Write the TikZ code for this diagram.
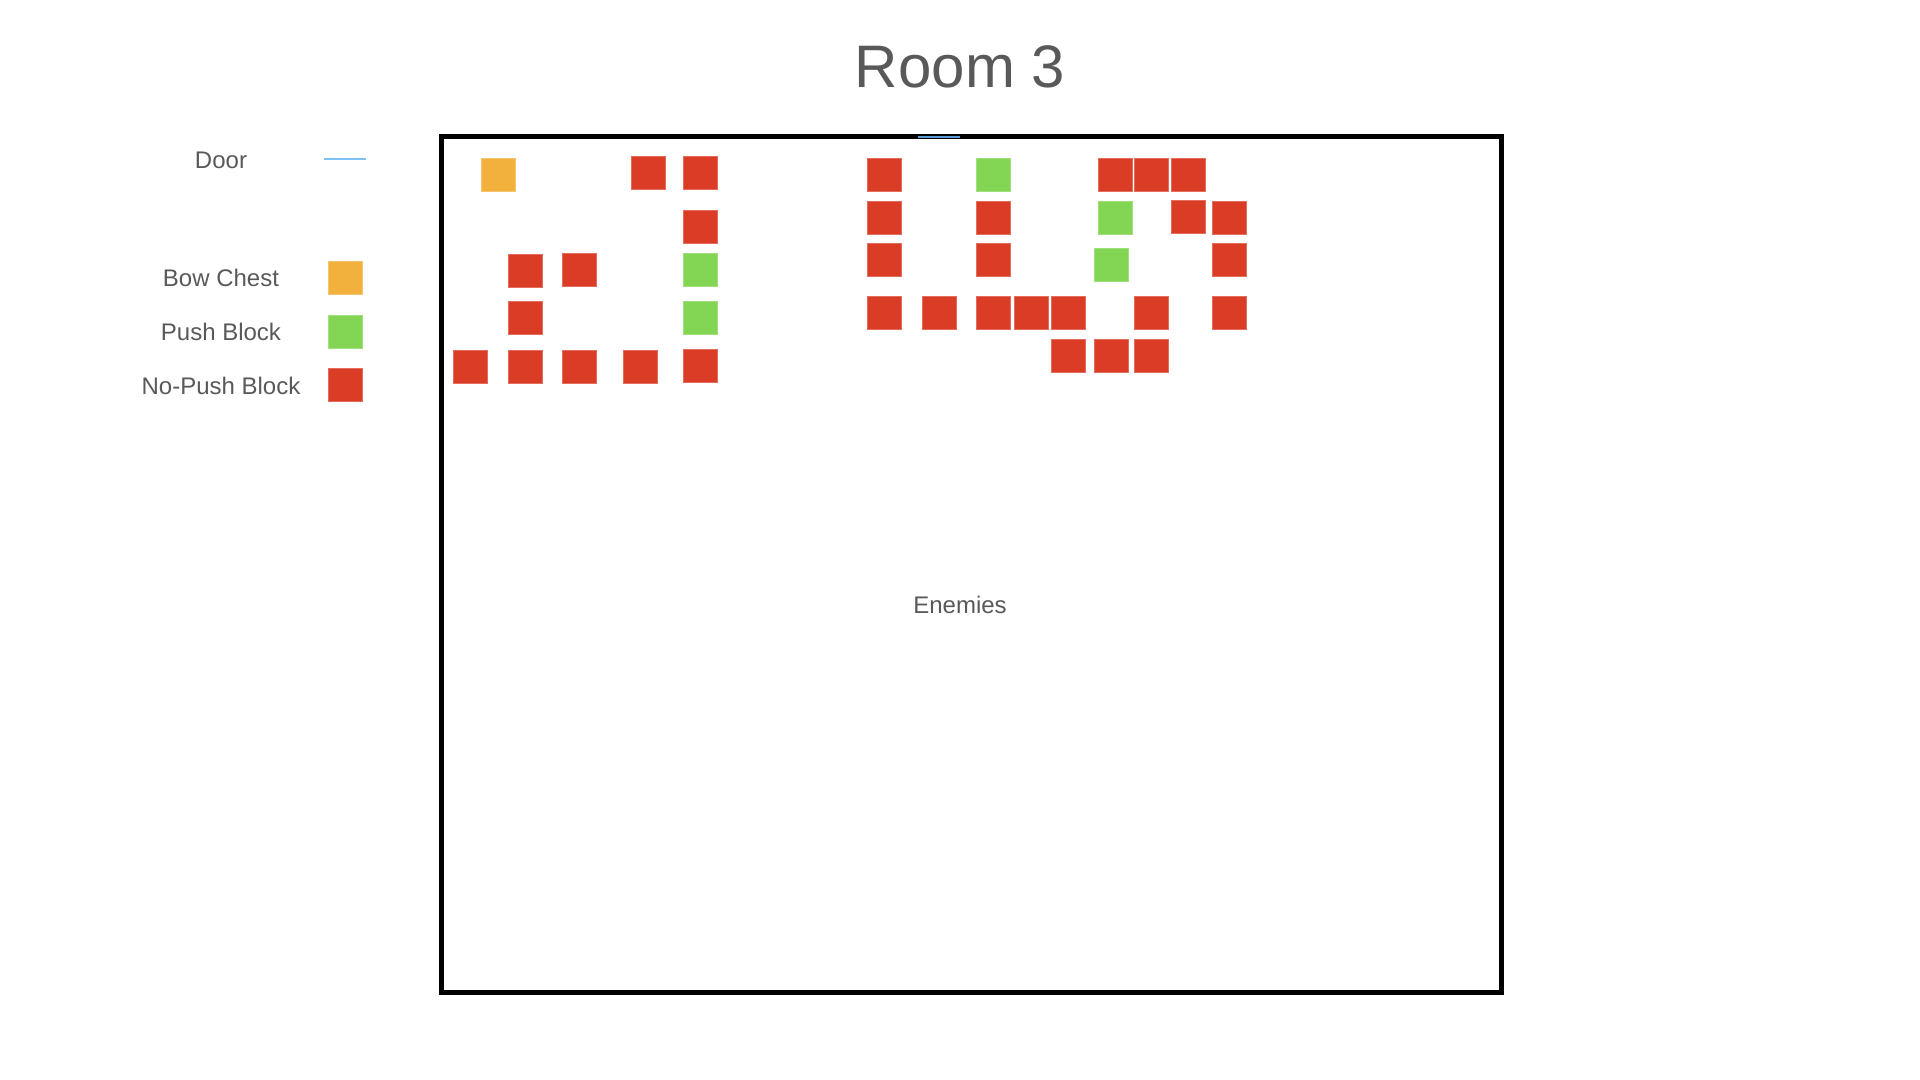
\documentclass[tikz,border=0pt]{standalone}
\usepackage{fontspec}
\setmainfont{Liberation Sans}
\definecolor{txtgray}{HTML}{595959}
\definecolor{chest}{HTML}{F2B03D}
\definecolor{push}{HTML}{83D653}
\definecolor{nopush}{HTML}{DA3C26}
\definecolor{doorblue}{HTML}{7EC2F5}
\definecolor{doordark}{HTML}{5B9BD5}
\begin{document}
\begin{tikzpicture}[x=0.5pt,y=-0.5pt,
  lbl/.style={text=txtgray,font=\fontsize{12}{14}\selectfont,inner sep=0pt},
  blk/.style={minimum width=17pt,minimum height=16.5pt,inner sep=0pt,draw=#1!75!white,line width=0.4pt,fill=#1},
  redb/.style={blk=nopush},
  greenb/.style={blk=push},
  orangeb/.style={blk=chest}]
\useasboundingbox (0,0) rectangle (1920,1080);
\node[text=txtgray,font=\fontsize{30}{36}\selectfont,inner sep=0pt] (title) at (960,67) {Room 3};
% room
\draw[line width=2.5pt,black] (441,137) rectangle (1501,992);
\coordinate (d1) at (918,137);
\coordinate (d2) at (960,137);
\draw[doordark,line width=1pt] (d1) -- (d2);
\node[lbl] (enemies) at (960,605) {Enemies};
% legend
\node[lbl] (ldoor) at (221,160) {Door};
\coordinate (ld1) at (324,159);
\coordinate (ld2) at (366,159);
\draw[doorblue,line width=1pt] (ld1) -- (ld2);
\node[lbl] (lchest) at (221,278) {Bow Chest};
\node[orangeb] (lsq1) at (345,278) {};
\node[lbl] (lpush) at (221,332) {Push Block};
\node[greenb] (lsq2) at (345,332) {};
\node[lbl] (lnopush) at (221,386) {No-Push Block};
\node[redb] (lsq3) at (345,385) {};
% left cluster
\node[orangeb] (c1) at (498,174.5) {};
\node[redb] (a1) at (648,172.5) {};
\node[redb] (a2) at (700.5,172.5) {};
\node[redb] (a3) at (700.5,226.5) {};
\node[redb] (a4) at (525,270.5) {};
\node[redb] (a5) at (579,269.5) {};
\node[greenb] (g1) at (700.5,269.5) {};
\node[redb] (a6) at (525,318) {};
\node[greenb] (g2) at (700.5,318) {};
\node[redb] (a7) at (470,366.5) {};
\node[redb] (a8) at (525,366.5) {};
\node[redb] (a9) at (579,366.5) {};
\node[redb] (a10) at (640,366.5) {};
\node[redb] (a11) at (700.5,365.5) {};
% right cluster row 1
\node[redb] (b1) at (884,174.5) {};
\node[greenb] (g3) at (993,174.5) {};
\node[redb] (b2) at (1115,174.5) {};
\node[redb] (b3) at (1151,174.5) {};
\node[redb] (b4) at (1188,174.5) {};
% row 2
\node[redb] (b5) at (884,217.5) {};
\node[redb] (b6) at (993,217.5) {};
\node[greenb] (g4) at (1115,217.5) {};
\node[redb] (b7) at (1188,216.5) {};
\node[redb] (b8) at (1229,217.5) {};
% row 3
\node[redb] (b9) at (884,259.5) {};
\node[redb] (b10) at (993,259.5) {};
\node[greenb] (g5) at (1111,265) {};
\node[redb] (b11) at (1229,259.5) {};
% row 4
\node[redb] (b12) at (884,312.5) {};
\node[redb] (b13) at (939,312.5) {};
\node[redb] (b14) at (993,312.5) {};
\node[redb] (b15) at (1031,312.5) {};
\node[redb] (b16) at (1068,312.5) {};
\node[redb] (b17) at (1151,312.5) {};
\node[redb] (b18) at (1229,312.5) {};
% row 5
\node[redb] (b19) at (1068,355.5) {};
\node[redb] (b20) at (1111,355.5) {};
\node[redb] (b21) at (1151,355.5) {};
\end{tikzpicture}
\end{document}
